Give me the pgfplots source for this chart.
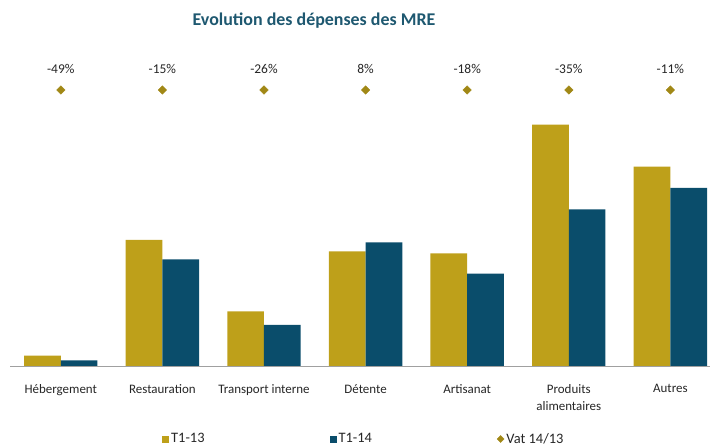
\documentclass[border=0pt]{standalone}
\usepackage{fontspec}
\setmainfont{Carlito}
\usepackage{pgfplots}
\pgfplotsset{compat=1.18}
\definecolor{gold}{RGB}{190,160,26}
\definecolor{teal}{RGB}{10,77,107}
\definecolor{titleblue}{RGB}{30,88,112}
\begin{document}
\begin{tikzpicture}
\useasboundingbox (0,0) rectangle (710bp,447bp);
\node[font=\fontsize{18}{21}\selectfont\bfseries, text=titleblue] at (314bp,426bp) {Evolution des dépenses des MRE};
\begin{axis}[
  at={(10bp,81bp)}, anchor=south west,
  scale only axis, width=700bp, height=366bp,
  xmin=-0.5, xmax=6.39, ymin=0, ymax=366,
  axis x line*=bottom, axis y line=none,
  x axis line style={draw={rgb,255:red,160;green,160;blue,160}, line width=0.8pt},
  xtick={0,1,2,3,4,5,6},
  major tick length=0pt,
  xticklabels={Hébergement,Restauration,Transport interne,Détente,Artisanat,Produits\\alimentaires,Autres},
  xticklabel style={align=center, font=\fontsize{13}{17}\selectfont, text=black!85, anchor=north, yshift=-15bp},
  clip=false,
  legend columns=3,
  legend style={draw=none, fill=none, at={(0.2171,-0.1995)}, anchor=west, inner sep=0pt,
    font=\fontsize{14.5}{16}\selectfont, text=black!85,
    /tikz/every even column/.append style={column sep=123bp}},
]
\addplot[ybar, bar width=36.7bp, bar shift=-18.35bp, fill=gold, draw=none,
  legend image code/.code={\fill[gold] (0bp,-3.5bp) rectangle (7bp,3.5bp);}]
  coordinates {(0,10.3) (1,126) (2,54.7) (3,114.7) (4,112.7) (5,241.3) (6,199.3)};
\addlegendentry{T1-13}
\addplot[ybar, bar width=36.7bp, bar shift=18.35bp, fill=teal, draw=none,
  legend image code/.code={\fill[teal] (0bp,-3.5bp) rectangle (7bp,3.5bp);}]
  coordinates {(0,5.7) (1,106.7) (2,41) (3,123.7) (4,92.3) (5,156.7) (6,178)};
\addlegendentry{T1-14}
\addplot[only marks, mark=square*, mark size=3bp, mark options={rotate=45, fill=gold!85!black, draw=gold!85!black},
  point meta=explicit symbolic, nodes near coords,
  nodes near coords style={anchor=center, yshift=21bp, font=\fontsize{13.5}{15}\selectfont, text=black!85},
  legend image code/.code={\fill[gold!85!black] (3.5bp,-3.5bp) -- (7bp,0bp) -- (3.5bp,3.5bp) -- (0bp,0bp) -- cycle;}]
  coordinates {(0,276)[-49\%] (1,276)[-15\%] (2,276)[-26\%] (3,276)[8\%] (4,276)[-18\%] (5,276)[-35\%] (6,276)[-11\%]};
\addlegendentry{Vat 14/13}
\end{axis}
\end{tikzpicture}
\end{document}
